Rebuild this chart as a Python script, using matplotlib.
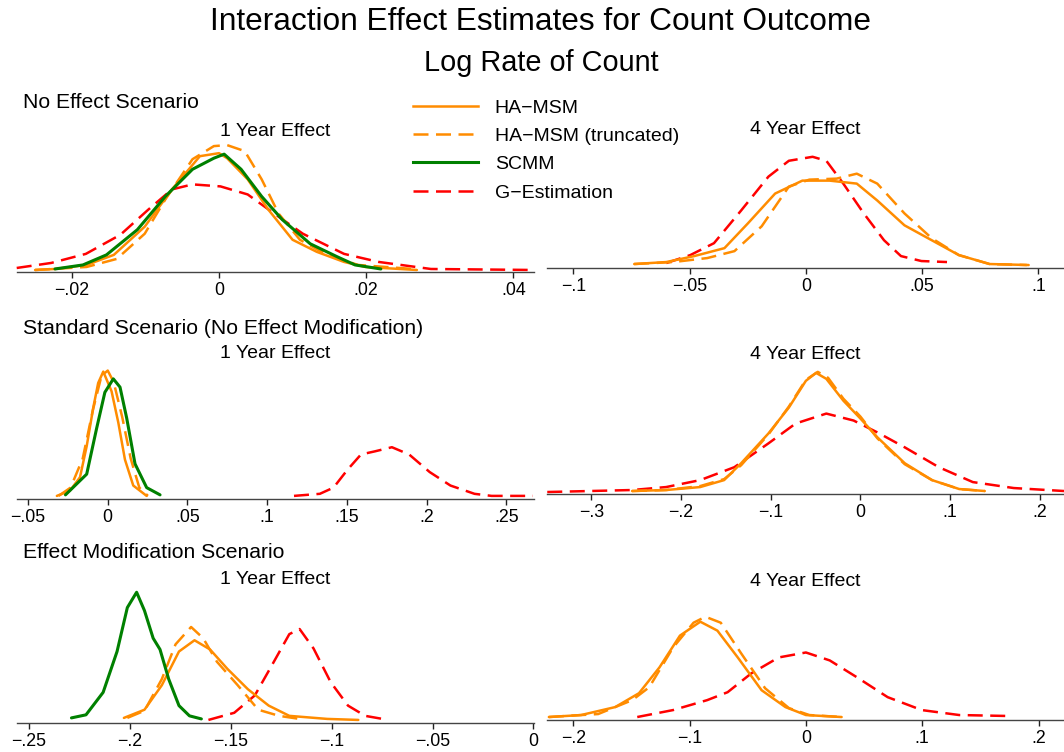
import matplotlib
matplotlib.use('Agg')
import matplotlib.pyplot as plt
from matplotlib.lines import Line2D

plt.rcParams['font.family'] = ['Liberation Sans', 'DejaVu Sans']

# ---------------------------------------------------------------------------
# kernel density curves: (estimate, relative density)
# ---------------------------------------------------------------------------

# row 1: no effect scenario
a_ha = [(-0.025, 2), (-0.0223, 3), (-0.018, 7), (-0.0143, 17), (-0.0101, 45),
        (-0.0064, 82), (-0.0026, 115), (0.0, 118), (0.0011, 113), (0.0039, 92),
        (0.0067, 62), (0.010, 32), (0.0133, 20), (0.017, 10), (0.0199, 5),
        (0.0269, 2)]
a_tr = [(-0.025, 2), (-0.018, 5), (-0.0139, 13), (-0.0101, 38), (-0.0073, 72),
        (-0.0036, 112), (-0.0007, 125), (0.0011, 126), (0.0035, 120),
        (0.0058, 92), (0.0081, 58), (0.011, 32), (0.0147, 17), (0.0189, 7),
        (0.0264, 3)]
a_sc = [(-0.0223, 3), (-0.0185, 7), (-0.0153, 17), (-0.0111, 42), (-0.0073, 75),
        (-0.0036, 102), (-0.0007, 113), (0.0007, 117), (0.003, 102),
        (0.0058, 75), (0.0086, 52), (0.0124, 28), (0.0161, 15), (0.0185, 7),
        (0.022, 3)]
a_ge = [(-0.0275, 4), (-0.0228, 9), (-0.0181, 18), (-0.0134, 37), (-0.0096, 62),
        (-0.0064, 82), (-0.0036, 87), (0.0002, 85), (0.0039, 77), (0.0077, 57),
        (0.0114, 38), (0.017, 18), (0.0217, 10), (0.0288, 3), (0.0428, 2)]

b_ha = [(-0.0738, 4), (-0.06, 6), (-0.048, 12), (-0.035, 20), (-0.0249, 45),
        (-0.0132, 75), (-0.0015, 88), (0.0102, 88), (0.0219, 85), (0.0307, 68),
        (0.0424, 43), (0.0541, 28), (0.0658, 13), (0.079, 4), (0.0958, 3)]
b_tr = [(-0.0738, 4), (-0.057, 6), (-0.0424, 10), (-0.0307, 17), (-0.019, 42),
        (-0.0073, 82), (0.0015, 89), (0.0132, 90), (0.0219, 95), (0.0307, 85),
        (0.0424, 55), (0.0541, 30), (0.0658, 13), (0.079, 4), (0.095, 3)]
b_ge = [(-0.06, 5), (-0.0497, 13), (-0.0395, 25), (-0.0278, 58), (-0.0161, 92),
        (-0.0073, 108), (0.0029, 112), (0.0088, 108), (0.0161, 85),
        (0.0249, 55), (0.0336, 28), (0.0409, 12), (0.0497, 7), (0.0607, 6)]

# row 2: standard scenario
c_ha = [(-0.0319, 3), (-0.0237, 8), (-0.0174, 21), (-0.0132, 51),
        (-0.0091, 88), (-0.006, 112), (-0.0028, 123), (0.0024, 104),
        (0.0066, 74), (0.0108, 38), (0.016, 13), (0.0244, 3)]
c_tr = [(-0.0308, 3), (-0.0233, 11), (-0.0157, 39), (-0.0093, 86),
        (-0.0039, 119), (0.0, 124), (0.0037, 113), (0.0091, 79), (0.0144, 39),
        (0.0198, 11), (0.0252, 3)]
c_sc = [(-0.0265, 4), (-0.0132, 24), (-0.007, 68), (-0.0018, 103),
        (0.0035, 116), (0.0077, 108), (0.0119, 78), (0.0171, 34),
        (0.0244, 11), (0.0328, 4)]
c_ge = [(0.1168, 3), (0.133, 5), (0.1416, 11), (0.1502, 28), (0.1588, 43),
        (0.1675, 46), (0.1782, 50), (0.189, 43), (0.2019, 26), (0.2149, 13),
        (0.23, 5), (0.2407, 3), (0.2666, 3)]

d_ha = [(-0.2545, 3), (-0.2165, 4), (-0.1785, 7), (-0.1519, 14), (-0.1329, 31),
        (-0.1025, 61), (-0.0798, 87), (-0.0608, 114), (-0.0494, 122),
        (-0.038, 116), (-0.019, 94), (0.0, 76), (0.019, 57), (0.0494, 31),
        (0.0798, 14), (0.1101, 5), (0.1386, 3)]
d_tr = [(-0.2545, 3), (-0.2165, 4), (-0.1785, 8), (-0.1519, 15), (-0.1329, 29),
        (-0.1025, 60), (-0.0798, 88), (-0.0608, 115), (-0.0475, 123),
        (-0.036, 117), (-0.019, 96), (0.0, 78), (0.019, 56), (0.0494, 30),
        (0.0798, 14), (0.1101, 5), (0.1386, 3)]
d_ge = [(-0.349, 2), (-0.2545, 4), (-0.2165, 7), (-0.1785, 14), (-0.1405, 27),
        (-0.1025, 51), (-0.0722, 71), (-0.038, 81), (-0.0076, 74), (0.019, 62),
        (0.0494, 47), (0.0874, 27), (0.1253, 12), (0.1709, 6), (0.2269, 3)]

# row 3: effect modification scenario
e_ha = [(-0.203, 5), (-0.1928, 13), (-0.1842, 37), (-0.1757, 70), (-0.168, 81),
        (-0.1603, 72), (-0.1517, 53), (-0.1415, 33), (-0.1312, 17),
        (-0.121, 7), (-0.1022, 4), (-0.0868, 3)]
e_tr = [(-0.2013, 5), (-0.1928, 12), (-0.1842, 43), (-0.1774, 77),
        (-0.1697, 94), (-0.1637, 83), (-0.1569, 60), (-0.1466, 37),
        (-0.1364, 13), (-0.1261, 7), (-0.1159, 4)]
e_sc = [(-0.229, 5), (-0.2218, 8), (-0.2133, 30), (-0.2064, 70), (-0.2013, 113),
        (-0.1967, 128), (-0.1928, 110), (-0.1885, 83), (-0.1851, 72),
        (-0.1808, 43), (-0.1757, 17), (-0.1705, 7), (-0.1646, 4)]
e_ge = [(-0.1611, 3), (-0.1483, 10), (-0.1381, 27), (-0.1295, 57), (-0.121, 87),
        (-0.1159, 92), (-0.109, 73), (-0.1005, 40), (-0.0919, 17),
        (-0.0834, 7), (-0.0748, 4)]

f_ha = [(-0.221, 3), (-0.1933, 5), (-0.164, 13), (-0.1435, 27), (-0.1259, 53),
        (-0.1083, 85), (-0.0908, 99), (-0.0761, 90), (-0.0586, 63),
        (-0.0381, 30), (-0.0176, 13), (0.0, 5), (0.0307, 3)]
f_tr = [(-0.221, 3), (-0.1786, 6), (-0.1493, 20), (-0.1347, 33), (-0.1142, 73),
        (-0.0966, 98), (-0.0864, 104), (-0.0732, 98), (-0.0556, 67),
        (-0.0351, 32), (-0.0146, 12), (0.0029, 5), (0.0307, 3)]
f_ge = [(-0.145, 3), (-0.1142, 10), (-0.0849, 20), (-0.0673, 28), (-0.0469, 47),
        (-0.0234, 63), (0.0, 68), (0.0205, 60), (0.0439, 43), (0.0703, 23),
        (0.0996, 10), (0.1318, 5), (0.1757, 4)]

ticks_a = [-0.02, 0, 0.02, 0.04]
ticks_b = [-0.1, -0.05, 0, 0.05, 0.1]
ticks_c = [-0.05, 0, 0.05, 0.1, 0.15, 0.2, 0.25]
ticks_d = [-0.3, -0.2, -0.1, 0, 0.1, 0.2]
ticks_e = [-0.25, -0.2, -0.15, -0.1, -0.05, 0]
ticks_f = [-0.2, -0.1, 0, 0.1, 0.2]

row_labels = ['No Effect Scenario',
              'Standard Scenario (No Effect Modification)',
              'Effect Modification Scenario']
series_names = ['HA\u2212MSM', 'HA\u2212MSM (truncated)', 'SCMM', 'G\u2212Estimation']

ORANGE = '#ff8c00'
GREEN = '#008000'
RED = '#ff0000'

STYLES = {
    'ha': dict(color=ORANGE, lw=1.8, ls='-'),
    'tr': dict(color=ORANGE, lw=1.8, ls=(0, (6, 3))),
    'sc': dict(color=GREEN, lw=2.2, ls='-'),
    'ge': dict(color=RED, lw=1.8, ls=(0, (6, 3))),
}


def tick_label(v):
    if v == 0:
        return '0'
    s = ('%g' % abs(v)).lstrip('0')
    return ('\u2212' if v < 0 else '') + s


def draw_panel(ax, curves, xlim, ticks, title):
    for key, pts in curves:
        xs = [p[0] for p in pts]
        ys = [p[1] for p in pts]
        ax.plot(xs, ys, solid_capstyle='round', dash_capstyle='butt',
                clip_on=False, **STYLES[key])
    ax.set_xlim(*xlim)
    ax.set_ylim(0, 140)
    ax.set_xticks(ticks)
    ax.set_xticklabels([tick_label(t) for t in ticks])
    ax.set_yticks([])
    for side in ('left', 'right', 'top'):
        ax.spines[side].set_visible(False)
    ax.spines['bottom'].set_color('#444444')
    ax.spines['bottom'].set_linewidth(1.0)
    ax.tick_params(axis='x', direction='out', length=4.3, width=1.0,
                   color='#222222', labelsize=12.8, pad=3)
    ax.patch.set_alpha(0)
    ax.text(0.5, 1.0, title, transform=ax.transAxes, ha='center', va='center',
            fontsize=14)


W, H = 1064, 752
fig = plt.figure(figsize=(W / 100, H / 100), dpi=100)


def add_axes(x0, x1, base, top):
    return fig.add_axes([x0 / W, 1 - base / H, (x1 - x0) / W, (base - top) / H])


ax_a = add_axes(17, 534, 272, 131)
ax_b = add_axes(547, 1064, 268, 129)
ax_c = add_axes(17, 534, 499, 354)
ax_d = add_axes(547, 1064, 494, 355)
ax_e = add_axes(17, 534, 723, 580)
ax_f = add_axes(547, 1064, 720, 581)

draw_panel(ax_a, [('ge', a_ge), ('tr', a_tr), ('ha', a_ha), ('sc', a_sc)],
           (-0.02746, 0.04282), ticks_a, '1 Year Effect')
draw_panel(ax_b, [('ge', b_ge), ('tr', b_tr), ('ha', b_ha)],
           (-0.1113, 0.111), ticks_b, '4 Year Effect')
draw_panel(ax_c, [('ge', c_ge), ('tr', c_tr), ('ha', c_ha), ('sc', c_sc)],
           (-0.0569, 0.2673), ticks_c, '1 Year Effect')
draw_panel(ax_d, [('ge', d_ge), ('tr', d_tr), ('ha', d_ha)],
           (-0.3493, 0.2269), ticks_d, '4 Year Effect')
draw_panel(ax_e, [('ge', e_ge), ('tr', e_tr), ('ha', e_ha), ('sc', e_sc)],
           (-0.256, 0.0003), ticks_e, '1 Year Effect')
draw_panel(ax_f, [('ge', f_ge), ('tr', f_tr), ('ha', f_ha)],
           (-0.2226, 0.2219), ticks_f, '4 Year Effect')

fig.text(541 / W, 1 - 22 / H, 'Interaction Effect Estimates for Count Outcome',
         ha='center', va='center', fontsize=22.8)
fig.text(541 / W, 1 - 63 / H, 'Log Rate of Count', ha='center', va='center',
         fontsize=20.8)
for lab, y in zip(row_labels, [103, 328, 553]):
    fig.text(23 / W, 1 - y / H, lab, ha='left', va='center', fontsize=15.2)

handles = [Line2D([], [], **STYLES[k]) for k in ('ha', 'tr', 'sc', 'ge')]
fig.legend(handles, series_names, loc='upper left',
           bbox_to_anchor=(413 / W, 1 - 99 / H), frameon=False, fontsize=14,
           handlelength=3.35, handletextpad=0.85, labelspacing=0.55,
           borderpad=0, borderaxespad=0)

fig.savefig('out.png', dpi=100)
